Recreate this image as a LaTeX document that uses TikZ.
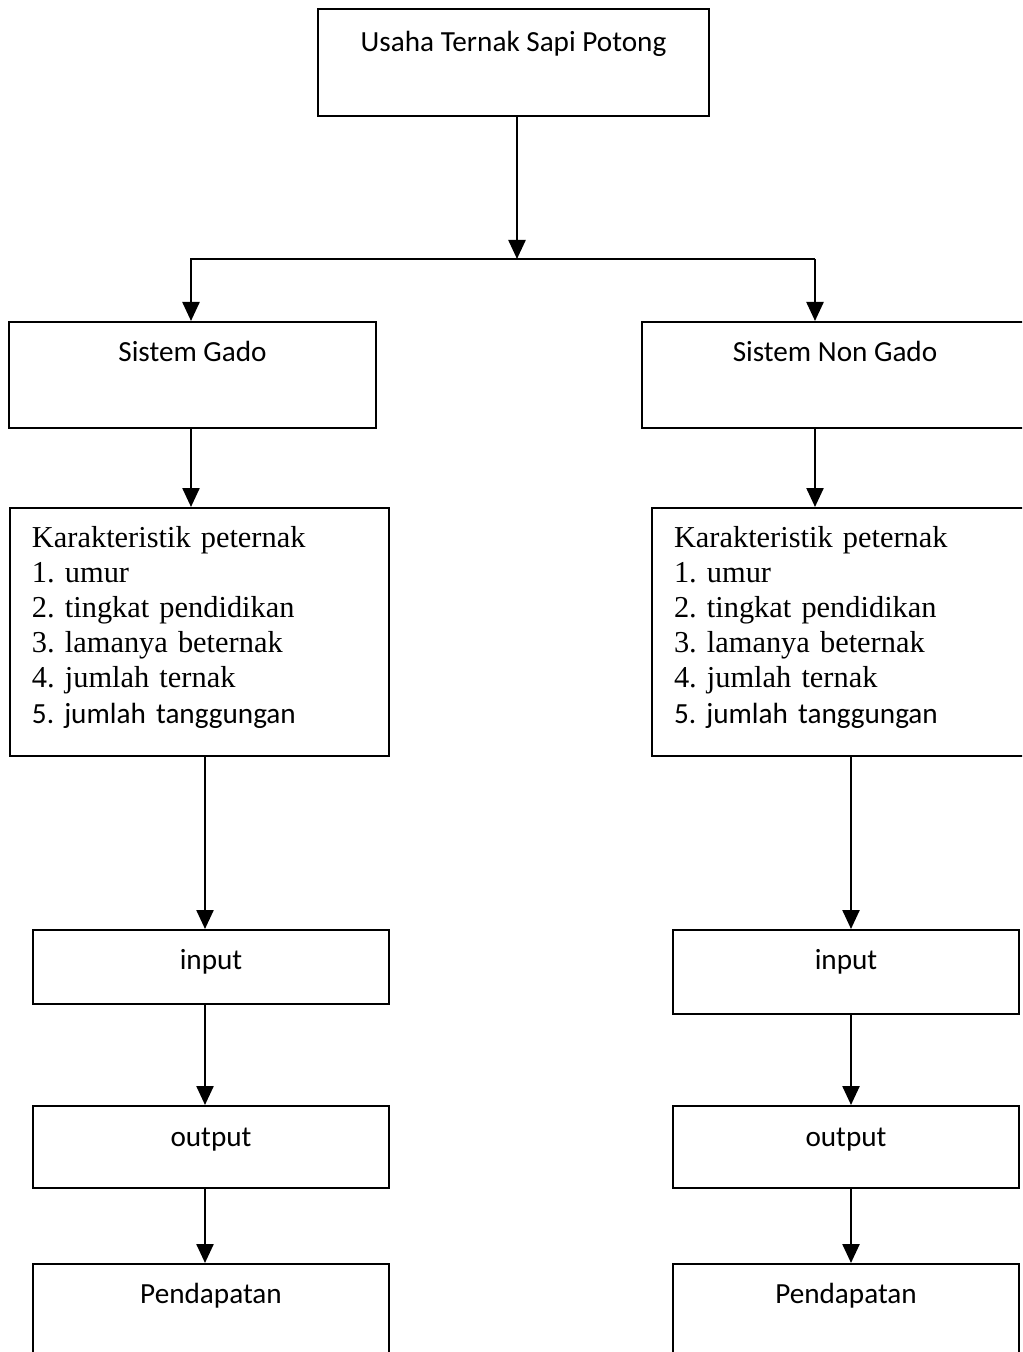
\documentclass[tikz,border=0pt]{standalone}
\usepackage{fontspec}
\setmainfont{Liberation Serif}
\newfontfamily\calibri{Carlito}
\usepackage{tikz}
\usetikzlibrary{arrows.meta, positioning}

\newcommand{\lblfont}{\calibri\fontsize{14.6}{17.6}\selectfont}
\newcommand{\karfont}{\frenchspacing\fontsize{15.2}{17.6}\selectfont}

\begin{document}
\begin{tikzpicture}[x=0.5pt,y=-0.5pt,
        box/.style={draw, line width=1pt, anchor=north west, inner sep=0pt, font=\lblfont, text height=20pt},
        karbox/.style={box, font=\karfont, align=left, inner xsep=11pt, minimum width=189.5pt,
            text width=167.5pt, text height=19.5pt, text depth=104.5pt, minimum height=124pt},
        arr/.style={line width=1.2pt, -{Triangle[width=8.5pt,length=9.5pt]}}]
        \useasboundingbox (0,0) rectangle (1022,1352);
        \clip (0,0) rectangle (1022,1352);

        \node[box, minimum width=195.5pt, minimum height=53.5pt, text height=21.5pt, text depth=32pt] (usaha) at (317,8) {Usaha Ternak Sapi Potong};

        \node[box, minimum width=183.5pt, minimum height=53pt, text depth=33pt] (gado) at (8,321) {Sistem Gado};
        \node[box, minimum width=193pt, minimum height=53pt, text depth=33pt] (nongado) at (641,321) {Sistem Non Gado};

        \node[karbox] (karL) at (9,507) {Karakteristik peternak\\1. umur\\2. tingkat pendidikan\\3. lamanya beternak\\4. jumlah ternak\\{\lblfont 5. jumlah tanggungan}};
        \node[karbox] (karR) at (651,507) {Karakteristik peternak\\1. umur\\2. tingkat pendidikan\\3. lamanya beternak\\4. jumlah ternak\\{\lblfont 5. jumlah tanggungan}};

        \node[box, minimum width=178pt, minimum height=37pt, text height=19.5pt, text depth=17.5pt] (inL) at (32,929) {input};
        \node[box, minimum width=178pt, minimum height=41pt, text depth=21pt] (outL) at (32,1105) {output};
        \node[box, minimum width=178pt, minimum height=53.5pt, text height=19.5pt, text depth=34pt] (pendL) at (32,1263) {Pendapatan};

        \node[box, minimum width=173pt, minimum height=42pt, text height=19.5pt, text depth=22.5pt] (inR) at (672,929) {input};
        \node[box, minimum width=173pt, minimum height=41pt, text depth=21pt] (outR) at (672,1105) {output};
        \node[box, minimum width=173pt, minimum height=53.5pt, text height=19.5pt, text depth=34pt] (pendR) at (672,1263) {Pendapatan};

        \coordinate (split) at (517,259);
        \coordinate (branchL) at (191,0);
        \coordinate (branchR) at (815,0);
        \coordinate (colL) at (205,0);
        \coordinate (colR) at (851,0);

        \draw[arr] (usaha.south -| split) -- (split);
        \draw[arr] (split -| branchR) -- (split -| branchL) -- (gado.north -| branchL);
        \draw[arr] (split -| branchR) -- (nongado.north -| branchR);
        \draw[arr] (gado.south -| branchL) -- (karL.north -| branchL);
        \draw[arr] (nongado.south -| branchR) -- (karR.north -| branchR);

        \foreach \a/\b in {karL/inL, inL/outL, outL/pendL}
            \draw[arr] (\a.south -| colL) -- (\b.north -| colL);
        \foreach \a/\b in {karR/inR, inR/outR, outR/pendR}
            \draw[arr] (\a.south -| colR) -- (\b.north -| colR);
    \end{tikzpicture}
\end{document}
